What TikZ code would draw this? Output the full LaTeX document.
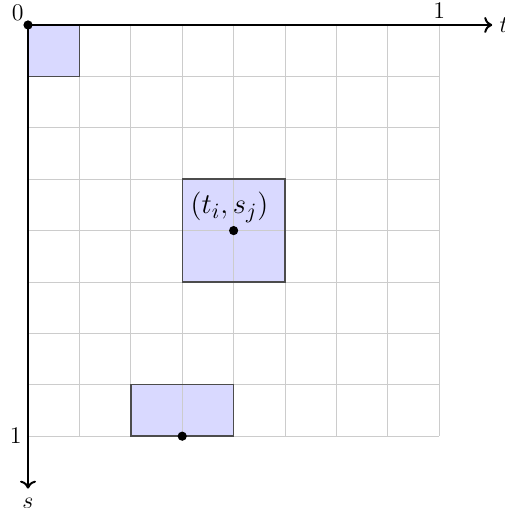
\documentclass[tikz,border=0pt]{standalone}
\usetikzlibrary{arrows.meta}
\begin{document}
\begin{tikzpicture}[x=25.7bp,y=-25.7bp,
  cellbox/.style={fill=blue!15},
  cellframe/.style={draw=black!70, line width=0.7pt},
  gridline/.style={draw=black!20, line width=0.45pt},
  axis/.style={draw=black, line width=1pt, -{To[length=4pt,width=8pt]}},
  lbl/.style={font=\fontsize{12.8}{15}\selectfont},
  dot/.style={circle, fill=black, inner sep=0pt, minimum size=4.6bp}]
\useasboundingbox (-0.545,-0.486) rectangle (9.261,9.397);
% fills
\fill[cellbox] (0,0) rectangle (1,1);
\fill[cellbox] (3,3) rectangle (5,5);
\fill[cellbox] (2,7) rectangle (4,8);
% grid
\foreach \k in {1,...,8} {
  \draw[gridline] (\k,0) -- (\k,8);
  \draw[gridline] (0,\k) -- (8,\k);
}
% frames
\draw[cellframe] (0,0) rectangle (1,1);
\draw[cellframe] (3,3) rectangle (5,5);
\draw[cellframe] (2,7) rectangle (4,8);
% axes
\coordinate (O) at (0,0);
\coordinate (tend) at (9.03,0);
\coordinate (send) at (0,9.02);
\draw[axis] (O) -- (tend);
\draw[axis] (O) -- (send);
\node[lbl, anchor=west, inner sep=3.5pt] (tl) at (tend) {$t$};
\node[lbl, anchor=north, inner sep=4.5pt] (sl) at (send) {$s$};
\node[lbl, anchor=south east, inner sep=2pt] (zero) at (O) {$0$};
\node[lbl, anchor=south, inner sep=3pt] (one1) at (8,0) {$1$};
\node[lbl, anchor=east, inner sep=3pt] (one2) at (0,8) {$1$};
% dots
\node[dot] (d0) at (0,0) {};
\node[dot] (d1) at (4,4) {};
\node[dot] (d2) at (3,8) {};
\node[font=\fontsize{15.4}{18}\selectfont] (lab) at (3.92,3.55) {$(t_i,s_j)$};
\end{tikzpicture}
\end{document}
